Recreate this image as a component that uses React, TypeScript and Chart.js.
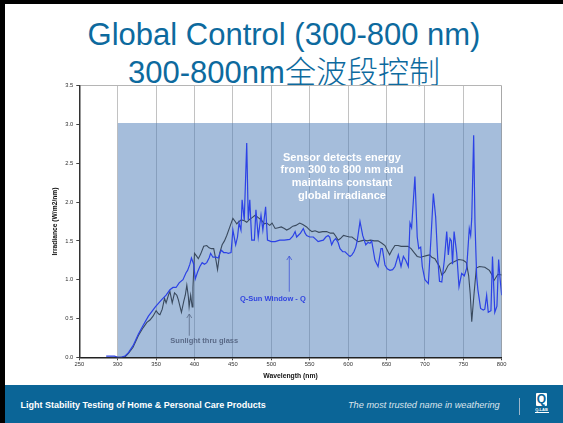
import React, { useEffect, useRef } from "react";
import { Chart, registerables } from "chart.js";

Chart.register(...registerables);

// ---- data ----
const sunWl = [290, 300, 305, 310, 314, 320, 327, 333, 338, 342, 346, 350, 353, 355, 358, 361, 363, 366, 368, 371, 374, 377, 379, 381, 383, 386, 388, 390, 392, 393, 395, 397, 398, 400, 403, 405, 408, 412, 416, 419, 422, 425, 428, 430, 433, 436, 439, 442, 446, 450, 453, 455, 458, 461, 465, 468, 472, 475, 479, 483, 487, 491, 494, 498, 501, 505, 509, 513, 517, 520, 524, 528, 532, 537, 541, 546, 550, 553, 557, 562, 567, 572, 577, 581, 584, 587, 590, 594, 598, 602, 605, 609, 613, 617, 621, 625, 629, 634, 639, 644, 648, 651, 654, 657, 661, 665, 669, 674, 678, 682, 686, 690, 694, 698, 702, 706, 709, 713, 716, 719, 722, 726, 730, 733, 738, 744, 750, 754, 757, 759, 761, 764, 767, 771, 778, 784, 788, 790, 795, 800];
const sunIrr = [0, 0, 0, 0.01, 0.05, 0.13, 0.28, 0.38, 0.45, 0.48, 0.53, 0.6, 0.56, 0.55, 0.62, 0.76, 0.7, 0.8, 0.85, 0.7, 0.83, 0.8, 0.74, 0.66, 0.58, 0.72, 0.8, 0.93, 0.78, 0.65, 0.8, 0.65, 0.9, 1.34, 1.3, 1.27, 1.33, 1.43, 1.44, 1.41, 1.4, 1.4, 1.25, 1.13, 1.35, 1.45, 1.5, 1.57, 1.68, 1.79, 1.75, 1.72, 1.75, 1.77, 1.76, 1.74, 1.78, 1.8, 1.83, 1.8, 1.77, 1.72, 1.73, 1.7, 1.73, 1.66, 1.67, 1.68, 1.66, 1.64, 1.66, 1.69, 1.7, 1.73, 1.71, 1.68, 1.64, 1.62, 1.63, 1.61, 1.62, 1.62, 1.6, 1.6, 1.56, 1.51, 1.53, 1.57, 1.56, 1.55, 1.55, 1.52, 1.49, 1.5, 1.51, 1.5, 1.51, 1.5, 1.5, 1.47, 1.44, 1.38, 1.32, 1.38, 1.44, 1.44, 1.43, 1.43, 1.43, 1.4, 1.35, 1.3, 1.29, 1.3, 1.31, 1.32, 1.29, 1.27, 1.22, 1.17, 1.06, 1.1, 1.18, 1.21, 1.23, 1.26, 1.25, 1.22, 1.05, 0.82, 0.46, 0.82, 1.15, 1.17, 1.16, 1.12, 1.05, 0.99, 1.07, 1.06];

const qsunWl = [285, 296, 300, 305, 310, 314, 320, 327, 333, 340, 349, 357, 363, 368, 372, 376, 380, 385, 389, 391, 394, 396, 399, 401, 404, 407, 410, 413, 416, 419, 421, 424, 428, 431, 433, 435, 438, 441, 444, 447.6, 450, 453.6, 456, 458, 460.5, 462, 464.8, 468, 470, 472, 474.5, 478, 480, 483, 486.6, 489, 492.6, 495, 500, 505, 511, 517, 524, 528, 531, 533, 535, 538, 541.7, 544, 546, 550, 554.7, 558, 561, 564, 567.7, 571, 574, 576, 578.6, 581, 584, 587, 589.5, 593, 596, 600, 602.5, 605, 607.6, 610, 612, 615.5, 619, 623, 626, 628.5, 630.7, 635, 639, 642.8, 644.6, 648, 651, 654.5, 658, 661, 665.4, 668.9, 672, 675, 678.4, 680.6, 682.7, 687, 690, 692, 694.5, 696.6, 700, 704.5, 708, 711, 714, 716.6, 719, 722, 725.3, 728.4, 730.5, 732.7, 734.5, 736, 738, 741.4, 744.4, 747.9, 751.3, 754.4, 757.8, 759.6, 761, 763.5, 765.2, 767.4, 769, 772.5, 776, 778, 780.4, 782.5, 786, 788, 791, 793.8, 796, 798, 800];
const qsunIrr = [0.015, 0.015, 0, 0, 0.02, 0.06, 0.15, 0.3, 0.41, 0.53, 0.65, 0.74, 0.8, 0.87, 0.9, 0.9, 0.96, 1.0, 1.09, 1.12, 1.2, 1.28, 1.2, 1.01, 1.1, 1.17, 1.22, 1.2, 1.22, 1.28, 1.34, 1.29, 1.29, 1.28, 1.34, 1.38, 1.35, 1.35, 1.34, 1.35, 1.64, 1.45, 1.55, 1.73, 1.64, 2.03, 1.77, 2.76, 1.77, 2.03, 1.51, 1.51, 1.9, 1.55, 1.83, 1.64, 1.94, 1.51, 1.49, 1.49, 1.51, 1.51, 1.52, 1.56, 1.62, 1.55, 1.57, 1.6, 1.66, 1.6, 1.57, 1.55, 1.55, 1.52, 1.49, 1.5, 1.51, 1.55, 1.57, 1.55, 1.45, 1.5, 1.53, 1.48, 1.4, 1.36, 1.36, 1.32, 1.3, 1.32, 1.36, 1.42, 1.51, 1.75, 1.57, 1.45, 1.48, 1.47, 1.5, 1.25, 1.17, 1.4, 1.4, 1.19, 1.14, 1.12, 1.13, 1.17, 1.32, 1.17, 1.3, 1.25, 1.17, 1.73, 1.67, 2.33, 1.55, 1.4, 1.42, 1.17, 1.0, 0.95, 1.55, 2.11, 1.81, 1.29, 0.98, 0.97, 1.25, 1.62, 1.32, 1.53, 1.5, 1.2, 1.62, 1.34, 0.91, 1.08, 1.05, 1.15, 1.66, 1.57, 1.79, 2.86, 1.74, 1.04, 0.87, 0.63, 0.61, 0.62, 0.8, 0.58, 0.6, 1.3, 0.58, 0.66, 1.26, 1.0, 0.8];

const bandWl = [300, 800];
const bandIrr = [3.02, 3.02];

const xTicksMin = 250;
const xTicksMax = 800;
const yTicksMax = 3.5;

const sensorLines = ["Sensor detects energy", "from 300 to 800 nm and", "maintains constant", "global irradiance"];
const qsunLabel = "Q-Sun Window - Q";
const sunLabel = "Sunlight thru glass";

const FONT = '"Liberation Sans", Arial, "Noto Sans CJK SC", sans-serif';

const toPts = (xs: number[], ys: number[]) => xs.map((x, i) => ({ x, y: ys[i] }));

function drawArrow(ctx: CanvasRenderingContext2D, px: number, yTop: number, yBot: number, color: string) {
  ctx.strokeStyle = color;
  ctx.lineWidth = 0.8;
  ctx.beginPath();
  ctx.moveTo(px, yBot);
  ctx.lineTo(px, yTop);
  ctx.stroke();
  ctx.beginPath();
  ctx.moveTo(px - 2.5, yTop + 4);
  ctx.lineTo(px, yTop);
  ctx.lineTo(px + 2.5, yTop + 4);
  ctx.stroke();
}

const annotPlugin = {
  id: "annot",
  afterDatasetsDraw(chart: any) {
    const { ctx, scales } = chart;
    const x = scales.x;
    const y = scales.y;
    ctx.save();
    ctx.textAlign = "center";
    ctx.textBaseline = "middle";
    ctx.font = `bold 11px ${FONT}`;
    ctx.fillStyle = "#ffffff";
    const sx = x.getPixelForValue(592);
    const sy = y.getPixelForValue(2.575);
    sensorLines.forEach((t, i) => ctx.fillText(t, sx, sy + i * 12.9));
    ctx.font = `bold 7.5px ${FONT}`;
    ctx.fillStyle = "#3346e0";
    ctx.fillText(qsunLabel, x.getPixelForValue(502), y.getPixelForValue(0.75));
    drawArrow(ctx, x.getPixelForValue(523.4), y.getPixelForValue(1.305), y.getPixelForValue(0.845), "#4054d8");
    ctx.fillStyle = "#5b6b88";
    ctx.fillText(sunLabel, x.getPixelForValue(412.7), y.getPixelForValue(0.214));
    drawArrow(ctx, x.getPixelForValue(393.2), y.getPixelForValue(0.558), y.getPixelForValue(0.278), "#5b6b88");
    ctx.restore();
  },
};

function SpectrumChart() {
  const ref = useRef<HTMLCanvasElement | null>(null);
  useEffect(() => {
    if (!ref.current) return;
    const chart = new Chart(ref.current, {
      type: "line",
      data: {
        datasets: [
          {
            label: "Q-Sun Window - Q",
            data: toPts(qsunWl, qsunIrr),
            borderColor: "#2c42e6",
            borderWidth: 1.2,
            pointRadius: 0,
            tension: 0,
            fill: false,
            order: 1,
          },
          {
            label: "Sunlight thru glass",
            data: toPts(sunWl, sunIrr),
            borderColor: "#3a4a5e",
            borderWidth: 1.1,
            pointRadius: 0,
            tension: 0,
            fill: false,
            order: 2,
          },
          {
            label: "band",
            data: toPts(bandWl, bandIrr),
            borderWidth: 0,
            borderColor: "rgba(0,0,0,0)",
            backgroundColor: "rgba(76,124,184,0.5)",
            pointRadius: 0,
            fill: "origin",
            order: 3,
          },
        ],
      },
      options: {
        animation: false,
        responsive: false,
        devicePixelRatio: 1,
        layout: { padding: { left: 0, right: 18.3, top: 7.7, bottom: 0 } },
        plugins: { legend: { display: false }, tooltip: { enabled: false } },
        scales: {
          x: {
            type: "linear",
            min: xTicksMin,
            max: xTicksMax,
            afterFit: (s: any) => {
              s.height = 25.7;
            },
            ticks: {
              stepSize: 50,
              padding: 1,
              color: "#333",
              font: { family: FONT, size: 5.8 },
              maxRotation: 0,
            },
            grid: {
              color: (c: any) => (c.tick && c.tick.value === xTicksMin ? "rgba(0,0,0,0)" : c.tick && c.tick.value === xTicksMax ? "#a8a8a8" : "#c2c2c2"),
              tickColor: "#444",
              tickLength: 3,
              lineWidth: 1,
            },
            border: { color: "#222", width: 1.5 },
            title: {
              display: true,
              text: "Wavelength (nm)",
              color: "#111",
              font: { family: FONT, size: 6.8, weight: "bold" },
              padding: { top: 0, bottom: 2.9 },
            },
          },
          y: {
            min: 0,
            max: yTicksMax,
            afterFit: (s: any) => {
              s.width = 49.3;
            },
            ticks: {
              stepSize: 0.5,
              padding: 3,
              color: "#333",
              font: { family: FONT, size: 5.8 },
              callback: (v: any) => Number(v).toFixed(1),
            },
            grid: {
              color: (c: any) => (c.tick && c.tick.value === yTicksMax ? "#b5b5b5" : "rgba(0,0,0,0)"),
              tickColor: "#444",
              tickLength: 3,
            },
            border: { color: "#333", width: 1.5 },
            title: {
              display: true,
              text: "Irradiance (W/m2/nm)",
              color: "#111",
              font: { family: FONT, size: 6.7, weight: "bold" },
              padding: { top: 21.5, bottom: 0 },
            },
          },
        },
      },
      plugins: [annotPlugin],
    } as any);
    return () => chart.destroy();
  }, []);
  return <canvas ref={ref} width={490} height={305} style={{ width: 490, height: 305, display: "block" }} />;
}

export default function App() {
  return (
    <div
      style={{
        position: "fixed",
        left: 0,
        top: 0,
        width: 563,
        height: 423,
        background: "#fff",
        overflow: "hidden",
        fontFamily: FONT,
      }}
    >
      <div style={{ position: "absolute", left: 0, top: 0, width: 5, height: 423, background: "#000" }} />
      <div style={{ position: "absolute", left: 0, top: 0, width: 563, height: 4, background: "#000" }} />
      <div
        style={{
          position: "absolute",
          left: 5,
          width: 558,
          top: 18.8,
          textAlign: "center",
          fontSize: 31,
          lineHeight: "31px",
          color: "#0d6a9e",
          whiteSpace: "nowrap",
        }}
      >
        Global Control (300-800 nm)
      </div>
      <div
        style={{
          position: "absolute",
          left: 5,
          width: 558,
          top: 53.8,
          textAlign: "center",
          fontSize: 31,
          lineHeight: "31px",
          color: "#0d6a9e",
          whiteSpace: "nowrap",
        }}
      >
        300-800nm
        <span style={{ fontFamily: '"Noto Sans CJK SC", sans-serif', fontWeight: 300 }}>全波段控制</span>
      </div>
      <div style={{ position: "absolute", left: 30, top: 78, width: 490, height: 305 }}>
        <SpectrumChart />
      </div>
      <div style={{ position: "absolute", left: 5, top: 385, width: 558, height: 38, background: "#0b6597" }} />
      <div
        style={{
          position: "absolute",
          left: 20.5,
          top: 400,
          fontSize: 9,
          lineHeight: "10px",
          fontWeight: "bold",
          color: "#fff",
          whiteSpace: "nowrap",
        }}
      >
        Light Stability Testing of Home &amp; Personal Care Products
      </div>
      <div
        style={{
          position: "absolute",
          left: 348,
          top: 400,
          fontSize: 9.2,
          lineHeight: "10px",
          fontStyle: "italic",
          color: "#dbe4ec",
          whiteSpace: "nowrap",
        }}
      >
        The most trusted name in weathering
      </div>
      <div style={{ position: "absolute", left: 519, top: 398, width: 1, height: 17, background: "#9db6ca" }} />
      <div
        style={{
          position: "absolute",
          left: 536,
          top: 393,
          width: 11,
          height: 13,
          background: "#fff",
          borderRadius: 1,
          color: "#0b6597",
          fontWeight: "bold",
          fontSize: 12,
          lineHeight: "13px",
          textAlign: "center",
        }}
      >
        Q
      </div>
      <div
        style={{
          position: "absolute",
          left: 534.5,
          top: 407,
          width: 14,
          fontSize: 4,
          lineHeight: "5px",
          fontWeight: "bold",
          color: "#fff",
          textAlign: "center",
          borderBottom: "1px solid #fff",
          whiteSpace: "nowrap",
        }}
      >
        Q-LAB
      </div>
    </div>
  );
}
